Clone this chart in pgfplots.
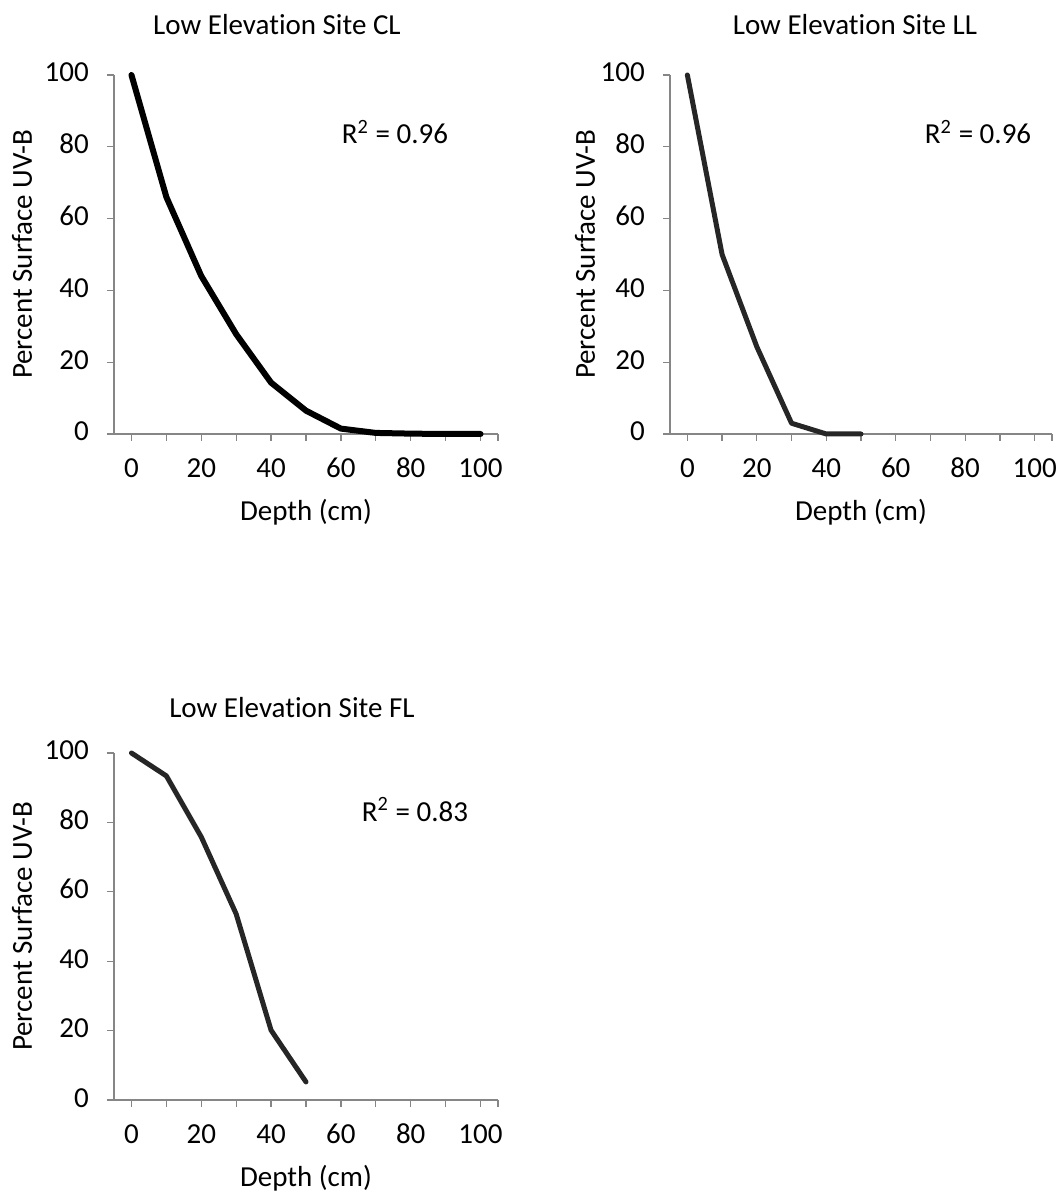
\documentclass[border=0pt]{standalone}
\usepackage{pgfplots}
\pgfplotsset{compat=1.18}
\usepackage{fontspec}
\setmainfont{Carlito}[Ligatures=NoCommon]

\definecolor{axisgray}{HTML}{868686}
\definecolor{linedark}{HTML}{262626}

\pgfplotsset{
  uvpanel/.style={
    scale only axis,
    anchor=south west,
    xmin=-5, xmax=105, ymin=0, ymax=100,
    axis lines=left,
    axis line style={-, draw=axisgray, line width=0.5pt},
    tick style={draw=axisgray, line width=0.5pt},
    tick align=outside,
    major tick length=2.8pt,
    minor tick length=2.8pt,
    xtick={0,20,...,100},
    minor xtick={10,30,50,70,90,105},
    ytick={0,20,...,100},
    /pgf/number format/assume math mode=true,
    typeset ticklabels with strut,
    xticklabel style={yshift=-0.8pt},
    yticklabel style={xshift=-3.2pt},
    xlabel={Depth (cm)},
    ylabel={Percent Surface UV-B},
    xlabel style={at={(0.5,0)}, anchor=center, yshift=-31.2pt},
    clip=false,
  },
}

\begin{document}
\fontsize{11.6}{14}\selectfont
\begin{tikzpicture}
% page = 1062 x 1192 px at 0.4pt per px
\path[use as bounding box] (0pt,0pt) rectangle (424.8pt,476.8pt);

% CL
\begin{axis}[uvpanel, at={(45.6pt,303.2pt)}, width=153.6pt, height=143.6pt,
  title={Low Elevation Site CL},
  title style={anchor=center, yshift=14pt, xshift=-11.6pt},
  ylabel style={at={(-0.2396,0.5)}, anchor=center}]
\addplot[black, line width=2.4pt, line join=round, line cap=round] coordinates {
  (0,100) (10,66) (20,44) (30,27.8) (40,14.3) (50,6.5) (60,1.5) (70,0.3) (80,0.1) (90,0) (100,0)
};
\node at (axis cs:75.5,84.1) {R\textsuperscript{2} = 0.96};
\end{axis}

% LL
\begin{axis}[uvpanel, at={(268pt,303.2pt)}, width=152.8pt, height=143.6pt,
  title={Low Elevation Site LL},
  title style={anchor=center, yshift=14pt, xshift=-2.4pt},
  ylabel style={at={(-0.2225,0.5)}, anchor=center}]
\addplot[linedark, line width=2pt, line join=round, line cap=round] coordinates {
  (0,100) (10,50) (20,24.3) (30,3) (40,0) (50,0)
};
\node at (axis cs:83.7,84.1) {R\textsuperscript{2} = 0.96};
\end{axis}

% FL
\begin{axis}[uvpanel, at={(45.6pt,36.8pt)}, width=153.6pt, height=138.8pt,
  title={Low Elevation Site FL},
  title style={anchor=center, yshift=12pt, xshift=-5.6pt},
  ylabel style={at={(-0.2396,0.5)}, anchor=center}]
\addplot[linedark, line width=2pt, line join=round, line cap=round] coordinates {
  (0,100) (10,93.4) (20,75.8) (30,53.6) (40,20.1) (50,5.2)
};
\node at (axis cs:81.2,83.6) {R\textsuperscript{2} = 0.83};
\end{axis}
\end{tikzpicture}
\end{document}
